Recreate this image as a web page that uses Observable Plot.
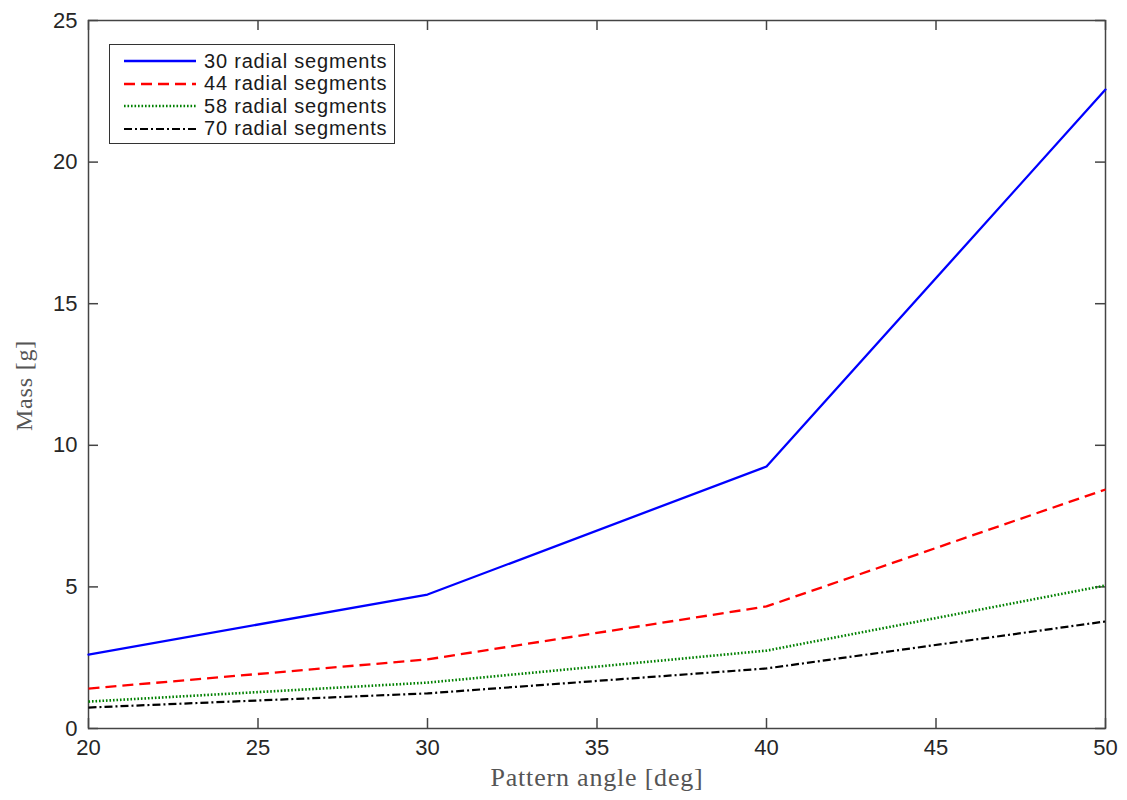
<!DOCTYPE html>
<html><head><meta charset="utf-8">
<script src="https://cdn.jsdelivr.net/npm/d3@7"></script>
<script src="https://cdn.jsdelivr.net/npm/@observablehq/plot@0.6"></script>
<style>
body{margin:0;background:#fff;}
#wrap{position:relative;width:1127px;height:800px;}
#legend{position:absolute;left:109px;top:44px;width:284px;height:98px;border:1.5px solid #333;background:#fff;font-family:"Liberation Sans",Arial,sans-serif;font-size:20px;letter-spacing:0.8px;color:#1a1a1a;}
.row{position:absolute;left:14px;height:22px;display:flex;align-items:center;white-space:nowrap;}
.row svg{margin-right:8px;}
.serif text{font-family:"Liberation Serif","DejaVu Serif",serif;}
</style></head><body><div id="wrap"><div id="legend"></div></div>
<script>
// ---- data ----
const angles = [20, 30, 40, 50];
const seriesNames = ["30 radial segments", "44 radial segments", "58 radial segments", "70 radial segments"];
const mass30 = [2.61, 4.73, 9.25, 22.56];
const mass44 = [1.41, 2.44, 4.31, 8.44];
const mass58 = [0.95, 1.62, 2.75, 5.05];
const mass70 = [0.74, 1.24, 2.12, 3.78];
const xTicks = [20, 25, 30, 35, 40, 45, 50];
const yTicks = [0, 5, 10, 15, 20, 25];
const xLabel = "Pattern angle [deg]";
const yLabel = "Mass [g]";

// ---- styles ----
const styles = [
  {stroke: "#0000ff", dash: null, width: 2.3, cap: "round"},
  {stroke: "#ff0000", dash: "11,6", width: 2.3, cap: "butt"},
  {stroke: "#008000", dash: "1.6,1.9", width: 2.6, cap: "butt"},
  {stroke: "#000000", dash: "8,3,2,3", width: 2.2, cap: "butt"}
];
const allMass = [mass30, mass44, mass58, mass70];
const table = seriesNames.flatMap((s, i) => angles.map((a, j) => ({series: s, angle: a, mass: allMass[i][j]})));

const W = 1127, H = 800, mL = 88, mR = 22, mT = 20, mB = 72;
const innerW = W - mL - mR, innerH = H - mT - mB;
const tickLen = 10;
const axisColor = "#444";
const labelColor = "#262626";

const marks = [
  Plot.frame({stroke: axisColor, strokeWidth: 1.5}),
  // inward ticks on all four sides
  Plot.tickX(xTicks, {x: d => d, stroke: axisColor, strokeWidth: 1.5, insetTop: innerH - tickLen}),
  Plot.tickX(xTicks, {x: d => d, stroke: axisColor, strokeWidth: 1.5, insetBottom: innerH - tickLen}),
  Plot.tickY(yTicks, {y: d => d, stroke: axisColor, strokeWidth: 1.5, insetRight: innerW - tickLen}),
  Plot.tickY(yTicks, {y: d => d, stroke: axisColor, strokeWidth: 1.5, insetLeft: innerW - tickLen}),
  Plot.axisX(xTicks, {tickSize: 0, tickPadding: 11, fontSize: 22, fill: labelColor, label: null}),
  Plot.axisY(yTicks, {tickSize: 0, tickPadding: 11, fontSize: 22, fill: labelColor, label: null}),
  Plot.text([yLabel], {text: d => d, frameAnchor: "left", textAnchor: "middle", rotate: -90, dx: -64, dy: 11, fontSize: 24, fill: "#555", className: "serif"}),
  Plot.text([xLabel], {text: d => d, frameAnchor: "bottom", textAnchor: "middle", dy: 57, fontSize: 26, fill: "#555", className: "serif"})
];
seriesNames.forEach((s, i) => {
  marks.push(Plot.line(table.filter(d => d.series === s), {x: "angle", y: "mass", stroke: styles[i].stroke, strokeWidth: styles[i].width, strokeDasharray: styles[i].dash, strokeLinecap: styles[i].cap}));
});

const chart = Plot.plot({
  width: W, height: H,
  marginLeft: mL, marginRight: mR, marginTop: mT, marginBottom: mB,
  style: {fontFamily: '"Liberation Sans", Arial, sans-serif', background: "#fff"},
  x: {domain: [20, 50]},
  y: {domain: [0, 25]},
  marks
});
chart.querySelectorAll('.serif text').forEach(t => t.setAttribute("letter-spacing", "0.8"));
document.getElementById("wrap").prepend(chart);

// legend
const leg = document.getElementById("legend");
seriesNames.forEach((s, i) => {
  const row = document.createElement("div");
  row.className = "row";
  row.style.top = (5 + i * 22.5) + "px";
  const st = styles[i];
  row.innerHTML = `<svg width="72" height="10"><line x1="0" x2="72" y1="5" y2="5" stroke="${st.stroke}" stroke-width="${st.width}" stroke-linecap="butt" ${st.dash ? `stroke-dasharray="${st.dash}"` : ""}/></svg><span>${s}</span>`;
  leg.appendChild(row);
});
</script></body></html>
